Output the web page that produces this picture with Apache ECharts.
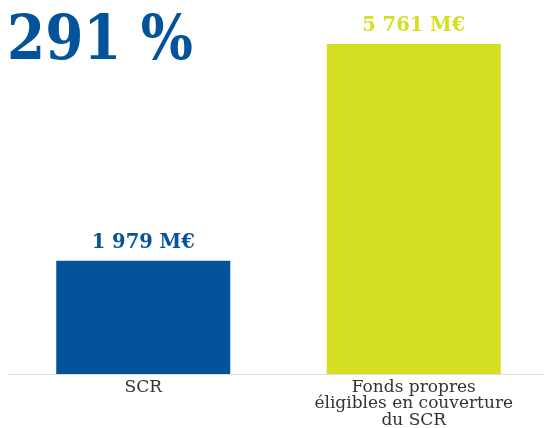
<!DOCTYPE html>
<html>
<head>
<meta charset="utf-8">
<script src="https://cdn.jsdelivr.net/npm/echarts@6/dist/echarts.min.js"></script>
<style>
html, body { margin: 0; padding: 0; background: #fff; }
#main { width: 544px; height: 428px; }
</style>
</head>
<body>
<div id="main"></div>
<script>
var categories = ['SCR', 'Fonds propres\néligibles en couverture\ndu SCR'];
var values = [1979, 5761];
var barColors = ['#02539a', '#d5df21'];
var ratioText = '291 %';

var myChart = echarts.init(document.getElementById('main'));
var option = {
	animation: false,
	title: {
		text: ratioText,
		left: 7,
		top: 13,
		padding: 0,
		textStyle: {
			fontFamily: 'DejaVu Serif Condensed',
			fontWeight: 'bold',
			fontSize: 61,
			color: '#02539a'
		}
	},
	grid: { left: 8, width: 541, top: 44, bottom: 54, outerBoundsMode: 'none' },
	xAxis: {
		type: 'category',
		data: categories,
		axisLine: { lineStyle: { color: '#dddddd', width: 1 } },
		axisTick: { show: false },
		axisLabel: {
			interval: 0,
			margin: 5,
			fontFamily: 'DejaVu Serif',
			fontSize: 17,
			lineHeight: 16.5,
			color: '#333'
		}
	},
	yAxis: {
		type: 'value',
		min: 0,
		max: 'dataMax',
		show: false,
		splitLine: { show: false }
	},
	series: [{
		type: 'bar',
		barWidth: 174,
		data: values.map(function(v, i) {
			return {
				value: v,
				itemStyle: { color: barColors[i] },
				label: { color: barColors[i] }
			};
		}),
		label: {
			show: true,
			position: 'top',
			distance: 8,
			fontFamily: 'DejaVu Serif',
			fontWeight: 'bold',
			fontSize: 19.5,
			formatter: function(p) {
				return String(p.value).replace(/\B(?=(\d{3})+(?!\d))/g, ' ') + ' M€';
			}
		}
	}]
};
myChart.setOption(option);
</script>
</body>
</html>
